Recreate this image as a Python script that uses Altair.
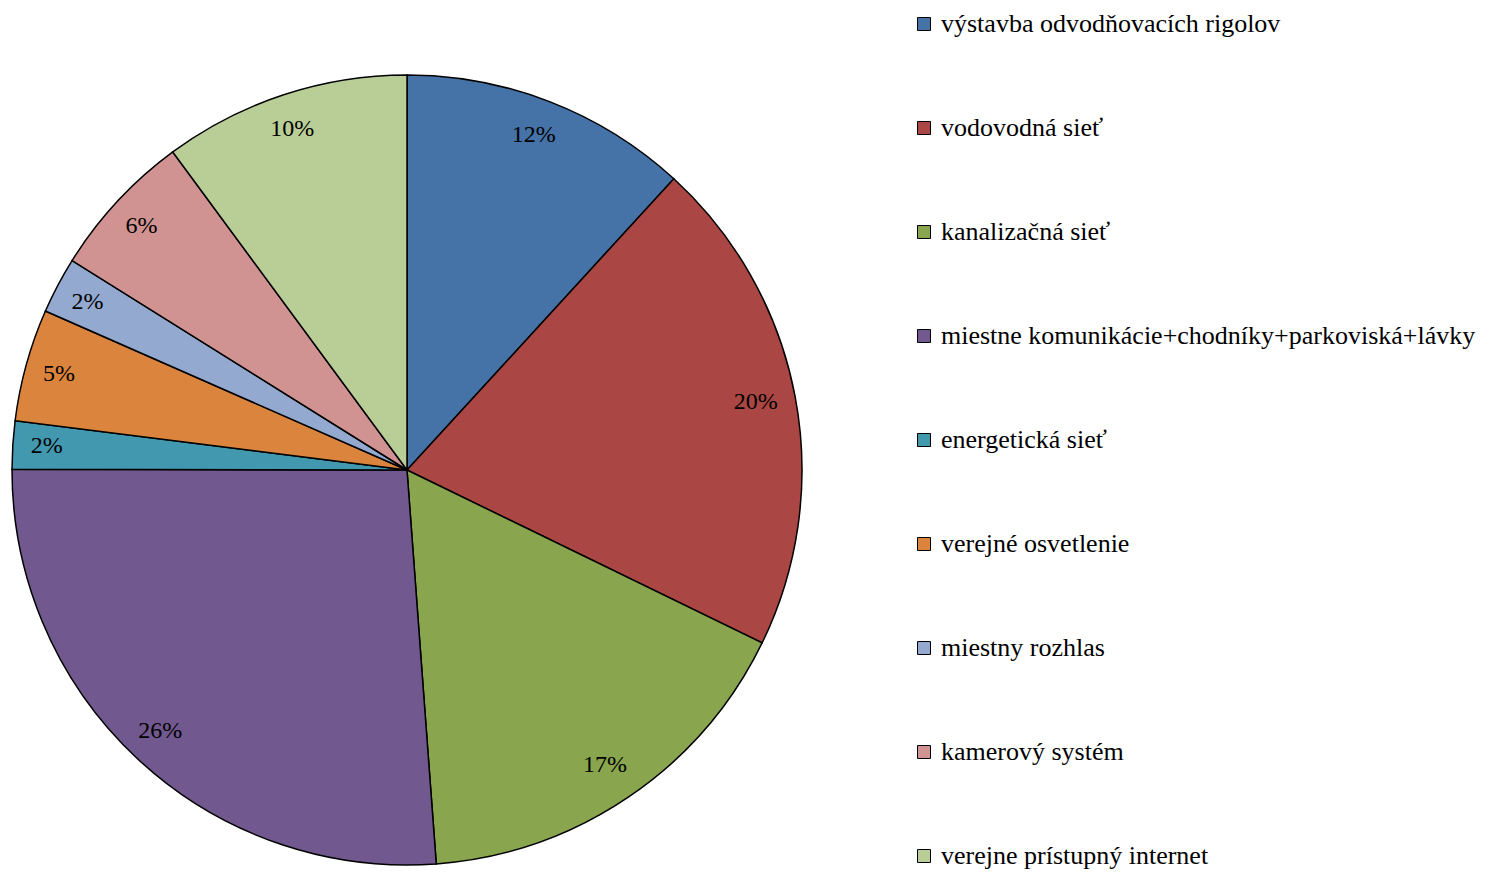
import altair as alt
import pandas as pd

categories = [
    "výstavba odvodňovacích rigolov",
    "vodovodná sieť",
    "kanalizačná sieť",
    "miestne komunikácie+chodníky+parkoviská+lávky",
    "energetická sieť",
    "verejné osvetlenie",
    "miestny rozhlas",
    "kamerový systém",
    "verejne prístupný internet",
]
values = [11.8, 20.4, 16.6, 26.2, 1.96, 4.6, 2.3, 6.0, 10.1]
labels = ["12%", "20%", "17%", "26%", "2%", "5%", "2%", "6%", "10%"]
colors = ["#4572A7", "#AA4643", "#89A54E", "#71588F", "#4198AF",
          "#DB843D", "#93A9CF", "#D19392", "#B9CD96"]

df = pd.DataFrame({
    "cat": categories,
    "val": values,
    "label": labels,
    "idx": list(range(len(categories))),
})

CX, CY, R = 399, 462, 395
FONT = "Liberation Serif"

base = alt.Chart(df).encode(
    theta=alt.Theta("val:Q", stack=True),
    order=alt.Order("idx:Q", sort="ascending"),
)

pie = base.mark_arc(radius=R, stroke="black", strokeWidth=1.5).encode(
    x=alt.value(CX),
    y=alt.value(CY),
    color=alt.Color(
        "cat:N",
        scale=alt.Scale(domain=categories, range=colors),
        sort=categories,
        legend=alt.Legend(
            title=None,
            orient="none",
            legendX=903,
            legendY=3,
            symbolType="square",
            symbolSize=169,
            symbolStrokeColor="black",
            symbolStrokeWidth=1,
            symbolOpacity=1,
            labelFont=FONT,
            labelFontSize=26,
            labelColor="black",
            labelOffset=4,
            labelLimit=700,
            rowPadding=78,
        ),
    ),
)

text = base.mark_text(radius=358, font=FONT, fontSize=24, color="black", dx=-3, dy=-1).encode(
    x=alt.value(CX),
    y=alt.value(CY),
    text="label:N",
)

chart = (pie + text).properties(
    width=1478, height=863, padding=0,
    autosize=alt.AutoSizeParams(type="none"),
).configure_view(stroke=None)

chart.save("out.html", embed_options={"renderer": "svg", "actions": False})
